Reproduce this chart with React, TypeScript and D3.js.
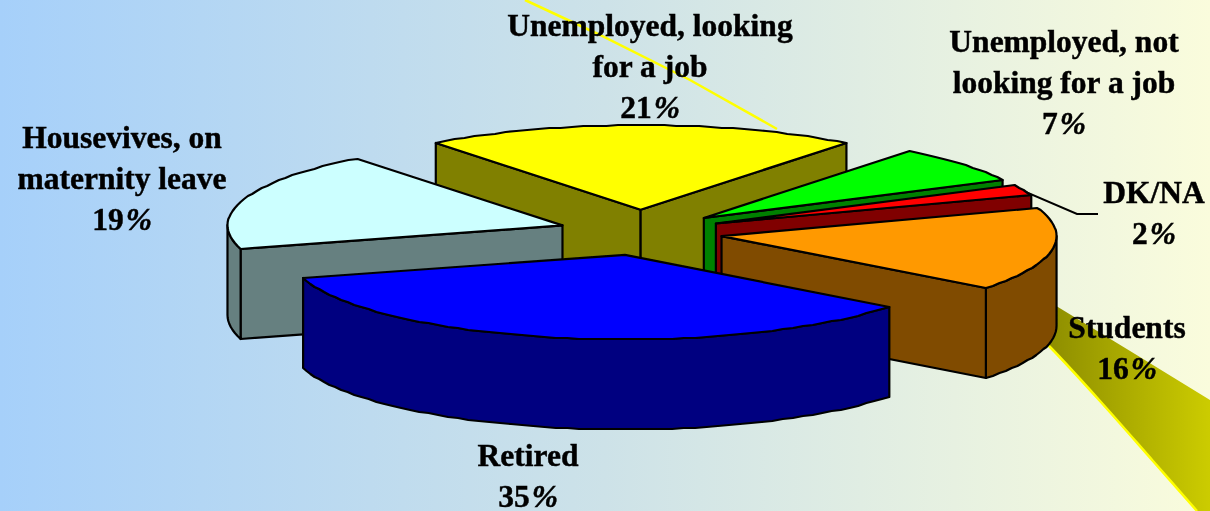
import React from "react";
import * as d3 from "d3";

const categories = ["Unemployed, looking for a job", "Unemployed, not looking for a job", "DK/NA", "Students", "Retired", "Housevives, on maternity leave"];
const values = [21, 7, 2, 16, 35, 19];
const topColors = ["#FFFF00", "#00FF00", "#FF0000", "#FF9900", "#0000FF", "#CCFFFF"];
const sideColors = ["#808000", "#008000", "#800000", "#804C00", "#000080", "#668080"];
const paintOrder = [0, 1, 2, 5, 3, 4];
const labelLines = [
  ["Unemployed, looking", "for a job", "21%"],
  ["Unemployed, not", "looking for a job", "7%"],
  ["DK/NA", "2%"],
  ["Students", "16%"],
  ["Retired", "35%"],
  ["Housevives, on", "maternity leave", "19%"],
];
const labelCenters = [650, 1064, 1154, 1127, 528, 122];
const labelFirstBaselines = [36, 52, 203, 338, 466, 148];

const W = 1210, H = 511;
const CX = 640.5, CY = 232.5, RX = 335, RY = 84.5, DEPTH = 90, EXPLODE_X = 0.245, EXPLODE_Y = 0.27;
const START = (-37.7 * Math.PI) / 180;
const STEP = (2 * Math.PI) / 180;

type P = [number, number];
const line = d3.line<P>().curve(d3.curveLinearClosed);
const open = d3.line<P>().curve(d3.curveLinear);
const smooth = d3.line<P>().curve(d3.curveCatmullRom);
const ex = d3.scaleLinear().domain([-1, 1]).range([-RX, RX]);
const ey = d3.scaleLinear().domain([-1, 1]).range([-RY, RY]);

const arcs = d3.pie<number>().sort(null).startAngle(START).endAngle(START + 2 * Math.PI)(values);

function pieceOf(i: number) {
  const a = arcs[i];
  const mid = (a.startAngle + a.endAngle) / 2;
  const ax = CX + ex(Math.sin(mid) * EXPLODE_X);
  const ay = CY + ey(-Math.cos(mid) * EXPLODE_Y);
  const n = Math.max(2, Math.round((a.endAngle - a.startAngle) / STEP));
  const rim: P[] = d3.range(n + 1).map((k) => {
    const t = a.startAngle + ((a.endAngle - a.startAngle) * k) / n;
    return [ax + ex(Math.sin(t)), Math.round(ay + ey(-Math.cos(t)))] as P;
  });
  const outline: P[] = [[ax, ay], ...rim];
  const walls: P[][] = [];
  const loop = [...outline, outline[0]];
  let run: P[] = [];
  const flush = () => {
    if (run.length > 1) walls.push([...run, ...run.slice().reverse().map((p) => [p[0], p[1] + DEPTH] as P)]);
    run = [];
  };
  for (let k = 0; k < loop.length - 1; k++) {
    const p = loop[k], q = loop[k + 1];
    const front = q[0] < p[0];
    const radial = k === 0 || k === loop.length - 2;
    if (front) {
      if (radial) {
        flush();
        walls.push([p, q, [q[0], q[1] + DEPTH], [p[0], p[1] + DEPTH]]);
      } else {
        if (!run.length) run.push(p);
        run.push(q);
      }
    } else flush();
  }
  flush();
  return { outline, walls };
}

const bandTop: P[] = [[1030, 290], [1135, 354], [1210, 400]];
const bandBottom: P[] = [[1197, 511], [1153, 461], [1100, 401], [1051, 348], [1030, 328]];
const streak: P[] = [[525, 0], [600, 35], [690, 80], [777, 129]];
const leader: P[] = [[1014, 187], [1077, 214], [1098, 214]];

export default function App() {
  const bandEdge = smooth(bandBottom)!;
  const bandPath = `M${bandTop.map((p) => p.join(",")).join("L")}L1210,511L1197,511${bandEdge.replace(/^M[^A-Z]*/, "")}Z`;
  return (
    <svg width={W} height={H} viewBox={`0 0 ${W} ${H}`} style={{ position: "absolute", left: 0, top: 0, display: "block" }}>
      <defs>
        <linearGradient id="bg" x1="0" x2="1" y1="0" y2="0">
          <stop offset="0" stopColor="#A6D0FA" />
          <stop offset="0.5" stopColor="#CDE2E8" />
          <stop offset="1" stopColor="#FAFCDC" />
        </linearGradient>
        <linearGradient id="band" gradientUnits="userSpaceOnUse" x1="1050" x2="1210" y1="0" y2="0">
          <stop offset="0" stopColor="#8E8E00" />
          <stop offset="1" stopColor="#CCCC00" />
        </linearGradient>
        <filter id="soft" x="-2%" y="-2%" width="104%" height="104%">
          <feGaussianBlur stdDeviation="0.45" />
        </filter>
      </defs>
      <rect width={W} height={H} fill="url(#bg)" />
      <g filter="url(#soft)">
        <path d={bandPath} fill="url(#band)" />
        <path d={bandEdge} fill="none" stroke="#FFFF00" strokeWidth={2.5} />
        <path d={open(streak)!} fill="none" stroke="#FFFF00" strokeWidth={2.5} />
        <path d={open(leader)!} fill="none" stroke="#000" strokeWidth={2} />
        {paintOrder.map((i) => {
          const { outline, walls } = pieceOf(i);
          return (
            <g key={categories[i]} stroke="#000" strokeWidth={2.2} strokeLinejoin="round">
              {walls.map((w, j) => (
                <path key={j} d={line(w)!} fill={sideColors[i]} />
              ))}
              <path d={line(outline)!} fill={topColors[i]} />
            </g>
          );
        })}
        <g fontFamily="'Liberation Serif', serif" fontWeight="bold" fontSize={31.5} fill="#000" stroke="#000" strokeWidth={0.45} textAnchor="middle">
          {labelLines.map((lines, i) =>
            lines.map((t, j) => (
              <text key={t} x={labelCenters[i]} y={labelFirstBaselines[i] + j * 41.2}>
                {t.endsWith("%") ? (
                  <>
                    {t.slice(0, -1)}
                    <tspan fontStyle="italic" dx={2}>%</tspan>
                  </>
                ) : (
                  t
                )}
              </text>
            ))
          )}
        </g>
      </g>
    </svg>
  );
}
